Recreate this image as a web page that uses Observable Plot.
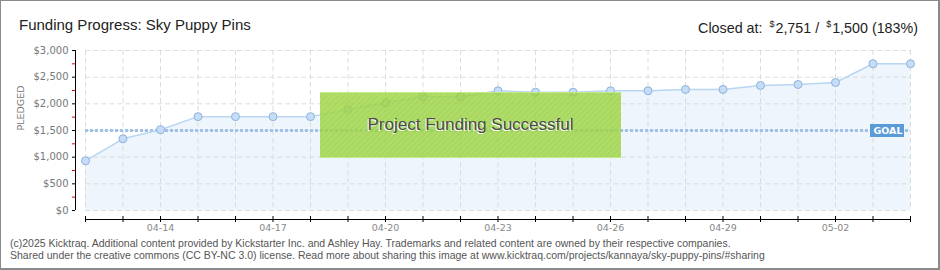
<!DOCTYPE html>
<html><head><meta charset="utf-8">
<script src="https://cdn.jsdelivr.net/npm/d3@7"></script>
<script src="https://cdn.jsdelivr.net/npm/@observablehq/plot@0.6"></script>
<style>
body{margin:0;background:#fff;}
#card{position:relative;width:940px;height:270px;background:#fff;overflow:hidden;font-family:"Liberation Sans",Arial,sans-serif;}
#border{position:absolute;left:0;top:0;width:940px;height:270px;box-sizing:border-box;border:1px solid #8a8a8a;border-right-width:2px;border-bottom-width:2px;pointer-events:none;}
#hdr{height:40px;position:relative;}
#title{position:absolute;left:19px;top:17px;font-size:15px;line-height:15px;color:#222;}
#closed{position:absolute;right:22px;top:17px;font-size:14.3px;line-height:15px;color:#222;}
#closed sup{font-size:9px;vertical-align:6px;margin:0 1px 0 3px;}
#chart svg{display:block;}
#foot{position:absolute;left:10px;top:237px;font-size:10.5px;line-height:12px;color:#555;white-space:nowrap;}
#banner{position:absolute;left:320px;top:92px;width:301px;height:66px;box-sizing:border-box;
  background-color:rgba(152,210,58,0.82);
  background-image:repeating-linear-gradient(135deg,rgba(255,255,255,0.07) 0 2px,rgba(0,0,0,0) 2px 4px);
  border-top:1px solid rgba(200,235,140,0.9);border-bottom:1px solid rgba(200,235,140,0.9);
  display:flex;align-items:center;justify-content:center;
  font-size:17px;color:#4b4b4b;text-shadow:-1px 1px 0 #fff;}
</style>
</head><body>
<div id="card">
  <div id="hdr">
    <div id="title"></div>
    <div id="closed"></div>
  </div>
  <div id="chart"></div>
  <div id="banner">Project Funding Successful</div>
  <div id="foot">(c)2025 Kicktraq. Additional content provided by Kickstarter Inc. and Ashley Hay. Trademarks and related content are owned by their respective companies.<br>Shared under the creative commons (CC BY-NC 3.0) license. Read more about sharing this image at www.kicktraq.com/projects/kannaya/sky-puppy-pins/#sharing</div>
  <div id="border"></div>
</div>
<script>
const projectName = "Sky Puppy Pins";
const year = 2025;
const dayLabels = ["04-12","04-13","04-14","04-15","04-16","04-17","04-18","04-19","04-20","04-21","04-22","04-23","04-24","04-25","04-26","04-27","04-28","04-29","04-30","05-01","05-02","05-03","05-04"];
const pledged = [932,1344,1513,1760,1760,1760,1760,1888,2019,2132,2132,2244,2218,2218,2244,2244,2270,2270,2344,2362,2400,2751,2751];
const goal = 1500;
const yTicks = [0,500,1000,1500,2000,2500,3000];
const yMinorTicks = [250,750,1250,1750,2250,2750];
const xLabelTicks = ["04-14","04-17","04-20","04-23","04-26","04-29","05-02"];

const toDate = s => new Date(`${year}-${s}T00:00:00Z`);
const data = dayLabels.map((d, i) => ({date: toDate(d), value: pledged[i]}));
const days = data.map(d => d.date);
const lastDay = days[days.length - 1];
const closed = pledged[pledged.length - 1];
const fmt = d3.format(",");

document.getElementById("title").textContent = "Funding Progress: " + projectName;
document.getElementById("closed").innerHTML =
  `Closed at: <sup>$</sup>${fmt(closed)} / <sup>$</sup>${fmt(goal)} (${Math.round(closed / goal * 100)}%)`;

const plot = Plot.plot({
  width: 940, height: 196,
  marginLeft: 85, marginRight: 30, marginTop: 10, marginBottom: 26,
  style: {fontFamily: "DejaVu Sans, sans-serif", fontSize: "10px", background: "transparent", color: "#000"},
  x: {type: "utc", domain: [days[0], lastDay], label: null},
  y: {domain: [0, 3000], label: null},
  marks: [
    Plot.areaY(data, {x: "date", y: "value", fill: "#eef5fd"}),
    Plot.ruleY(yTicks, {stroke: "#dcdcdc", strokeDasharray: "5,3"}),
    Plot.ruleX(days, {stroke: "#dcdcdc", strokeDasharray: "5,3"}),
    Plot.ruleY([goal], {stroke: "#9fc2e9", strokeWidth: 3, strokeDasharray: "3,2"}),
    Plot.lineY(data, {x: "date", y: "value", stroke: "#b9d6f3", strokeWidth: 1.5}),
    Plot.dot(data, {x: "date", y: "value", r: 4, fill: "#c5ddf7", stroke: "#8fb2dc", strokeWidth: 1}),
    Plot.ruleY([goal], {stroke: "#5b9ad8", strokeWidth: 13, insetLeft: 785, insetRight: 6}),
    Plot.text([goal], {x: () => lastDay, y: d => d, text: () => "GOAL", dx: -22.5, fill: "#fff", fontSize: 9.5, fontWeight: "bold"}),
    Plot.ruleX([days[0]], {dx: -10, stroke: "#000"}),
    Plot.ruleY([0], {dy: 9, stroke: "#000"}),
    Plot.axisY({ticks: yTicks, tickFormat: d => "$" + fmt(d), dx: -10, tickSize: 3, tickPadding: 4, fill: "#777", stroke: "#000", label: null, fontSize: 10}),
    Plot.axisY({ticks: yMinorTicks, fill: "none", stroke: "#e00000", dx: -10, tickSize: 3, label: null}),
    Plot.axisX({ticks: days, fill: "none", stroke: "#000", tickSize: 6, dy: 6, label: null}),
    Plot.axisX({ticks: xLabelTicks.map(toDate), tickSize: 0, tickPadding: 14, tickFormat: d3.utcFormat("%m-%d"), fill: "#888", fontSize: 9.5, label: null}),
    Plot.text(["PLEDGED"], {text: d => d, frameAnchor: "left", rotate: -90, dx: -65, fill: "#777", fontSize: 9.5})
  ]
});
document.getElementById("chart").appendChild(plot);
</script>
</body></html>
